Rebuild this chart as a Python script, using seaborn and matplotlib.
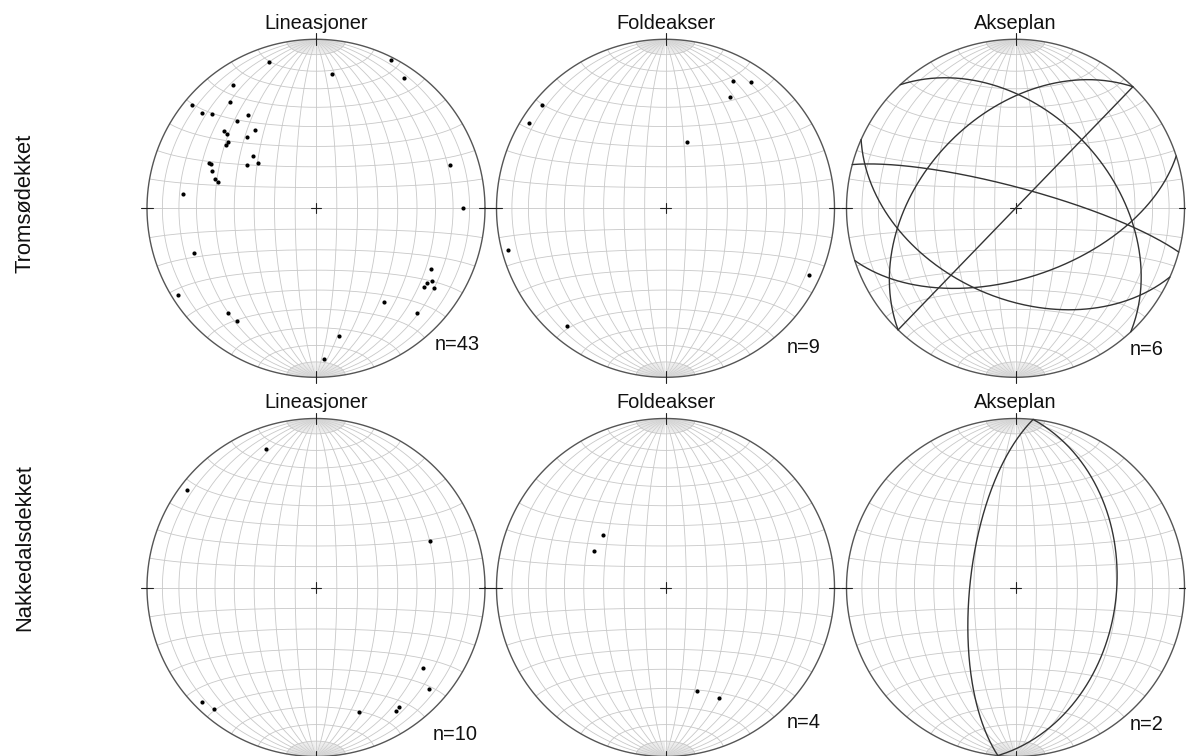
import numpy as np
import pandas as pd
import matplotlib
matplotlib.use("Agg")
import matplotlib.pyplot as plt
import seaborn as sns

# Tromsødekket - lineations (trend, plunge in degrees)
trom_lin_trend = [342, 27, 7, 34, 326, 321, 310, 310, 312, 324, 318, 322, 310, 310,
                  316, 307, 305, 310, 308, 302, 293, 293, 290, 286, 285, 276, 72, 90,
                  250, 238, 118, 122, 124, 126, 124, 144, 136, 220, 215, 170, 177]
trom_lin_plunge = [10, 2, 21, 8, 13, 20, 5, 13, 18, 32, 31, 41, 30, 32,
                   41, 35, 35, 50, 54, 50, 32, 33, 35, 38, 40, 22, 18, 14,
                   24, 4, 24, 20, 22, 22, 17, 32, 15, 20, 20, 24, 12]
# Tromsødekket - fold axes
trom_fold_trend = [28, 34, 30, 310, 302, 18, 255, 115, 220]
trom_fold_plunge = [16, 11, 25, 5, 5, 56, 4, 7, 10]
# Tromsødekket - axial planes (dip direction, dip)
trom_ax_dipdir = [47, 204, 314, 134, 15, 162]
trom_ax_dip = [43, 46, 44, 90, 80, 56]

# Nakkedalsdekket
nakk_lin_trend = [340, 307, 68, 127, 132, 225, 220, 161, 147, 145]
nakk_lin_plunge = [14, 5, 28, 22, 11, 5, 7, 23, 14, 15]
nakk_fold_trend = [310, 297, 163, 154]
nakk_fold_plunge = [50, 51, 36, 28]
nakk_ax_dipdir = [276, 96]
nakk_ax_dip = [68, 40]

panel_titles = ["Lineasjoner", "Foldeakser", "Akseplan"]
row_labels = ["Tromsødekket", "Nakkedalsdekket"]
n_labels = [["n=43", "n=9", "n=6"], ["n=10", "n=4", "n=2"]]

sns.set_style("white")
plt.rcParams["font.family"] = ["Liberation Sans", "DejaVu Sans"]

W, H = 1186, 756
R = 169
centers_x = [316, 665.5, 1015.5]
centers_y = [208.3, 587.5]
n_offsets = [[(119, 142), (121, 145), (114, 147)],
             [(117, 153), (121, 141), (114, 143)]]
LIM = 1.15


def project(x, y, z):
    # lower hemisphere equal-area (Schmidt), primitive radius 1
    d = np.sqrt(1 - np.asarray(z))
    return np.asarray(x) / d, np.asarray(y) / d


def line_xy(trend, plunge):
    t = np.radians(trend)
    p = np.radians(plunge)
    return project(np.cos(p) * np.sin(t), np.cos(p) * np.cos(t), -np.sin(p))


def plane_xy(dipdir, dip, n=200):
    dd = np.radians(dipdir)
    dp = np.radians(dip)
    u = np.linspace(0, np.pi, n)
    s = np.array([np.sin(dd - np.pi / 2), np.cos(dd - np.pi / 2), 0])
    d = np.array([np.cos(dp) * np.sin(dd), np.cos(dp) * np.cos(dd), -np.sin(dp)])
    pts = np.outer(np.cos(u), s) + np.outer(np.sin(u), d)
    pts[:, 2] = np.minimum(pts[:, 2], 0)
    return project(pts[:, 0], pts[:, 1], pts[:, 2])


def draw_net(ax):
    grid_kw = dict(color="#c8c8c8", lw=0.6, zorder=1)
    north = np.array([0, 1, 0])
    # meridians every 10 deg
    for a in range(10, 180, 10):
        ar = np.radians(a)
        d = np.array([np.cos(ar), 0, -np.sin(ar)])
        u = np.linspace(0, np.pi, 200)
        pts = np.outer(np.cos(u), north) + np.outer(np.sin(u), d)
        pts[:, 2] = np.minimum(pts[:, 2], 0)
        ax.plot(*project(pts[:, 0], pts[:, 1], pts[:, 2]), **grid_kw)
    # denser meridians close to the poles
    for a in range(2, 180, 2):
        if a % 10 == 0:
            continue
        ar = np.radians(a)
        d = np.array([np.cos(ar), 0, -np.sin(ar)])
        for u in (np.linspace(0, np.radians(10), 10), np.linspace(np.radians(170), np.pi, 10)):
            pts = np.outer(np.cos(u), north) + np.outer(np.sin(u), d)
            pts[:, 2] = np.minimum(pts[:, 2], 0)
            ax.plot(*project(pts[:, 0], pts[:, 1], pts[:, 2]), color="#d8d8d8", lw=0.25, zorder=1)
    # small circles around the N-S axis
    for a in range(10, 180, 10):
        ar = np.radians(a)
        psi = np.linspace(np.pi, 2 * np.pi, 200)
        x = np.sin(ar) * np.cos(psi)
        y = np.full_like(psi, np.cos(ar))
        z = np.minimum(np.sin(ar) * np.sin(psi), 0)
        ax.plot(*project(x, y, z), **grid_kw)
    # primitive
    th = np.linspace(0, 2 * np.pi, 400)
    ax.plot(np.cos(th), np.sin(th), color="#555555", lw=1.0, zorder=3)
    # ticks and centre cross
    t = 0.035
    for (x0, y0, x1, y1) in [(0, 1 - t, 0, 1 + t), (0, -1 - t, 0, -1 + t),
                             (1 - t, 0, 1 + t, 0), (-1 - t, 0, -1 + t, 0),
                             (-0.03, 0, 0.03, 0), (0, -0.03, 0, 0.03)]:
        ax.plot([x0, x1], [y0, y1], color="#222222", lw=0.8, zorder=3)


fig = plt.figure(figsize=(W / 100, H / 100), dpi=100)

rows = [
    (trom_lin_trend, trom_lin_plunge, trom_fold_trend, trom_fold_plunge, trom_ax_dipdir, trom_ax_dip),
    (nakk_lin_trend, nakk_lin_plunge, nakk_fold_trend, nakk_fold_plunge, nakk_ax_dipdir, nakk_ax_dip),
]

size = 2 * LIM * R
for r, row in enumerate(rows):
    lin_t, lin_p, fold_t, fold_p, ax_dd, ax_dip = row
    cy = centers_y[r]
    for c in range(3):
        cx = centers_x[c]
        ax = fig.add_axes([(cx - size / 2) / W, (H - cy - size / 2) / H, size / W, size / H])
        draw_net(ax)
        if c < 2:
            tr, pl = (lin_t, lin_p) if c == 0 else (fold_t, fold_p)
            px, py = line_xy(tr, pl)
            df = pd.DataFrame({"x": px, "y": py})
            sns.scatterplot(data=df, x="x", y="y", ax=ax, color="black", s=9,
                            linewidth=0, legend=False, zorder=5)
        else:
            for dd, dp in zip(ax_dd, ax_dip):
                gx, gy = plane_xy(dd, dp)
                ax.plot(gx, gy, color="#333333", lw=1.0, zorder=4)
        ax.set_xlim(-LIM, LIM)
        ax.set_ylim(-LIM, LIM)
        ax.set_aspect("equal")
        ax.axis("off")
        # title and count
        fig.text(cx / W, 1 - (cy - 179) / H, panel_titles[c], ha="center", va="baseline",
                 fontsize=14.4, color="#111111")
        ox, oy = n_offsets[r][c]
        fig.text((cx + ox) / W, 1 - (cy + oy) / H, n_labels[r][c], ha="left", va="baseline",
                 fontsize=14.4, color="#111111")
    fig.text(25 / W, 1 - (203 if r == 0 else 548) / H, row_labels[r], rotation=90,
             ha="center", va="center", fontsize=15.8, color="#111111")

fig.savefig("out.png", dpi=100)
